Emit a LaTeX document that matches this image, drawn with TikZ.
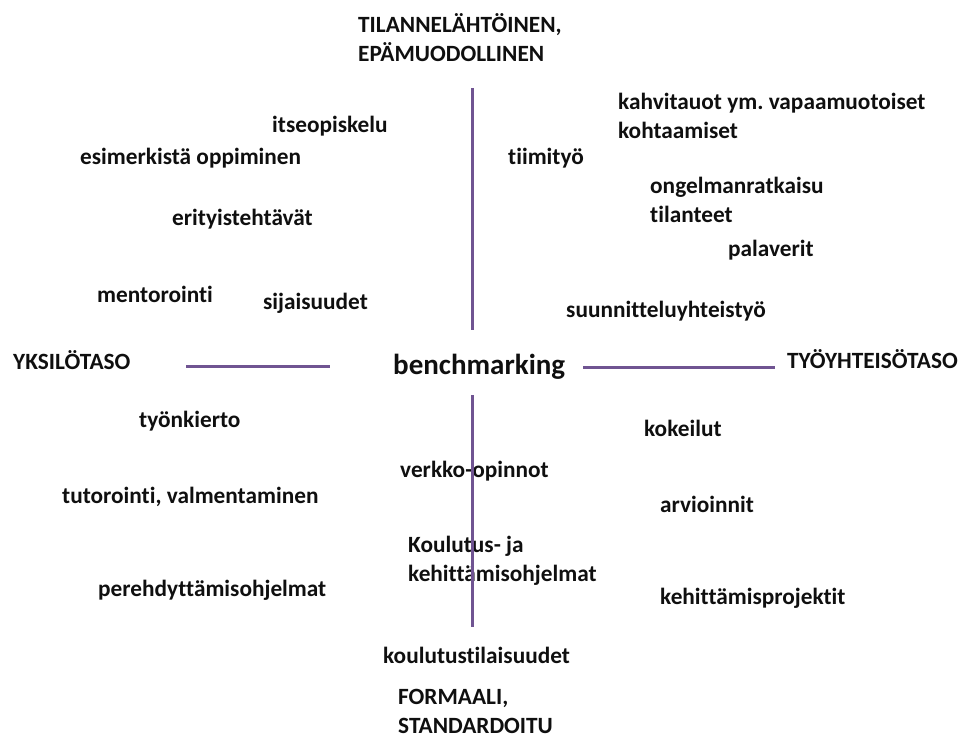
\documentclass[tikz,border=0pt]{standalone}
\usepackage{fontspec}
\setmainfont{Carlito}[Ligatures={NoCommon}]
\definecolor{axis}{RGB}{112,84,146}
\definecolor{txt}{RGB}{15,15,15}
\frenchspacing
\begin{document}
\begin{tikzpicture}[x=1pt,y=-1pt,
  lbl/.style={anchor=west,inner sep=0pt,font=\bfseries\fontsize{23.3}{29}\selectfont,text=txt,text height=16.5pt,text depth=4.5pt,align=left},
  lbl2/.style={anchor=west,inner sep=0pt,font=\bfseries\fontsize{23.3}{29}\selectfont,text=txt,align=left},
  axisline/.style={draw=axis,line width=3pt}]
\useasboundingbox (0,0) rectangle (964,738);
% axes
\coordinate (vt1) at (472,88);
\coordinate (vt2) at (472,330);
\coordinate (vb1) at (472,395);
\coordinate (vb2) at (472,627);
\coordinate (hl1) at (186,366);
\coordinate (hl2) at (330,366);
\coordinate (hr1) at (583,367);
\coordinate (hr2) at (775,367);
% labels
\node[lbl2] (top) at (358,38) {TILANNELÄHTÖINEN,\\EPÄMUODOLLINEN};
\node[lbl] (itse) at (272,127) {itseopiskelu};
\node[lbl] (esim) at (80,159) {esimerkistä oppiminen};
\node[lbl] (erit) at (172,220) {erityistehtävät};
\node[lbl] (ment) at (97,296) {mentorointi};
\node[lbl] (sija) at (263,303) {sijaisuudet};
\node[lbl] (yks) at (13,363) {YKSILÖTASO};
\node[anchor=west,inner sep=0pt,font=\bfseries\fontsize{29}{34}\selectfont,text=txt] (bench) at (393,367) {benchmarking};
\node[lbl] (tyo) at (787,362) {TYÖYHTEISÖTASO};
\node[lbl2] (kahvi) at (618,116) {kahvitauot ym. vapaamuotoiset\\kohtaamiset};
\node[lbl] (tiimi) at (508,159) {tiimityö};
\node[lbl2] (ongel) at (650,200) {ongelmanratkaisu\\tilanteet};
\node[lbl] (pala) at (728,251) {palaverit};
\node[lbl] (suun) at (566,311) {suunnitteluyhteistyö};
\node[lbl] (tyonk) at (139,421) {työnkierto};
\node[lbl] (koke) at (644,430) {kokeilut};
\node[lbl] (verk) at (400,471) {verkko-opinnot};
\node[lbl] (tuto) at (62,497) {tutorointi, valmentaminen};
\node[lbl] (arvi) at (660,506) {arvioinnit};
\node[lbl2] (koul) at (408,561) {Koulutus- ja\\kehittämisohjelmat};
\node[lbl] (pere) at (98,590) {perehdyttämisohjelmat};
\node[lbl] (kehp) at (660,598) {kehittämisprojektit};
\node[lbl] (kti) at (383,657) {koulutustilaisuudet};
\node[lbl2] (form) at (398,711) {FORMAALI,\\STANDARDOITU};
% axis lines
\draw[axisline] (vt1) -- (vt2);
\draw[axisline] (vb1) -- (vb2);
\draw[axisline] (hl1) -- (hl2);
\draw[axisline] (hr1) -- (hr2);
\end{tikzpicture}
\end{document}
